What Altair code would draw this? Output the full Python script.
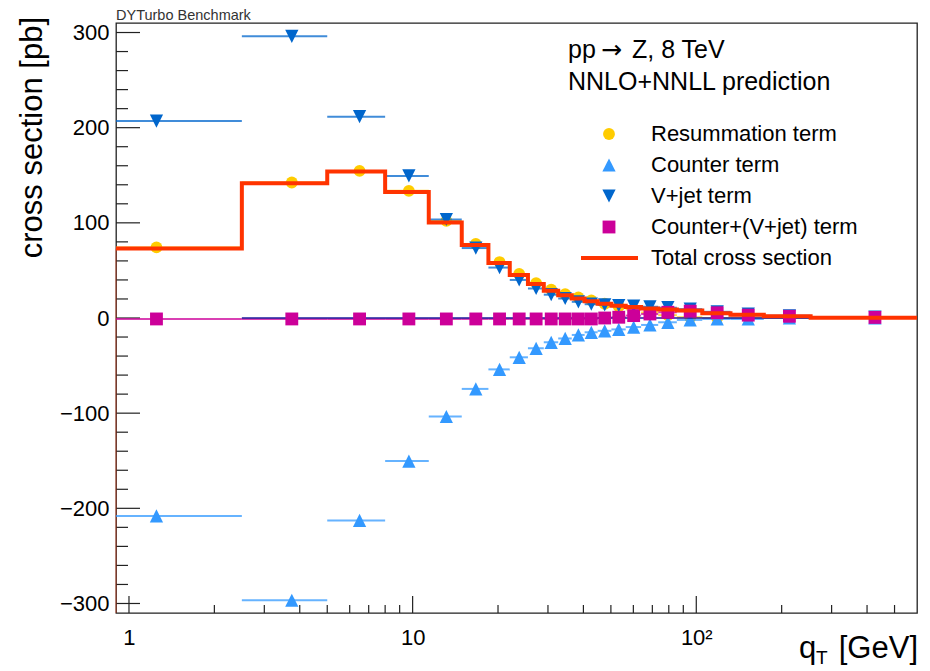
import altair as alt
import pandas as pd

# ---------------- data ----------------
EDGES = [0, 2.5, 5, 8, 11.4, 14.9, 18.5, 22, 25.5, 29, 32.6, 36.4, 40.4, 44.9,
         50.2, 56.4, 63.9, 73.4, 85.4, 105, 132, 173, 253, 600]

SERIES = ["Resummation term", "Counter term", "V+jet term", "Counter+(V+jet) term"]

RESUM = [74.2, 142.4, 154.6, 133.6, 102.0, 77.8, 58.8, 46.2, 36.7, 29.7, 25.0,
         21.5, 18.5, 15.0, 12.2, 9.0, 5.8, 3.0, 0.8, 0.0, 0.2, 0.0, 0.0]
COUNTER = [-208.0, -296.6, -212.7, -150.4, -103.5, -74.5, -54.0, -41.3, -31.8,
           -25.5, -21.5, -17.8, -15.0, -13.5, -12.0, -9.5, -7.3, -4.5, -2.0,
           -1.0, -1.0, 0.0, 0.0]
VJET = [207.0, 296.0, 211.6, 149.3, 103.5, 73.5, 53.0, 40.0, 31.0, 24.5, 20.5,
        17.0, 14.5, 13.8, 13.0, 12.5, 11.8, 10.8, 9.3, 6.5, 4.2, 2.3, 0.8]
CPV = [-1.0, -1.0, -1.0, -1.0, -1.0, -1.0, -1.0, -1.0, -1.0, -1.0, -1.0, -1.0,
       -1.0, 0.0, 0.8, 2.5, 4.2, 6.0, 7.2, 5.5, 3.0, 1.8, 0.6]
TOTAL = [73.1, 141.7, 153.9, 132.5, 100.4, 76.6, 57.7, 45.1, 35.7, 28.7, 24.0,
         20.5, 17.5, 15.0, 13.0, 11.5, 10.0, 9.0, 8.0, 5.0, 3.3, 1.8, 0.2]

X_TICKS_MAJOR = [1, 10, 100]
X_TICKS_MINOR = [2, 3, 4, 5, 6, 7, 8, 9, 20, 30, 40, 50, 60, 70, 80, 90,
                 200, 300, 400, 500]
Y_TICKS_MAJOR = list(range(-300, 301, 100))
Y_TICKS_MINOR = [v for v in range(-300, 301, 20) if v % 100 != 0]

HEADER_1 = ["pp", "\u2192", "Z, 8 TeV"]
HEADER_2 = "NNLO+NNLL prediction"
TOTAL_LABEL = "Total cross section"

# ---------------- layout / style ----------------
X_MIN, X_MAX = 0.9, 600
Y_MIN, Y_MAX = -310, 310
W, H = 801, 590
FONT = "Liberation Sans"

STYLE = {
    "Resummation term": dict(color="#ffcc00", shape="circle", size=140),
    "Counter term": dict(color="#3399ff", shape="M0,-1L1,1L-1,1Z", size=175),
    "V+jet term": dict(color="#0066cc", shape="M0,1L1,-1L-1,-1Z", size=175),
    "Counter+(V+jet) term": dict(color="#cc0099", shape="square", size=165),
}
RED = "#ff3300"

lo = [max(e, X_MIN) for e in EDGES[:-1]]
hi = EDGES[1:]
center = [(a + b) / 2 for a, b in zip(EDGES[:-1], EDGES[1:])]

xs = alt.Scale(type="log", domain=[X_MIN, X_MAX], nice=False)
ys = alt.Scale(domain=[Y_MIN, Y_MAX], nice=False, zero=False)
xaxis = alt.Axis(values=X_TICKS_MAJOR,
                 labelExpr="datum.value >= 100 ? '10\u00b2' : format(datum.value, 'd')",
                 ticks=False, domain=False, grid=False, title=None,
                 labelFont=FONT, labelFontSize=22, labelColor="black",
                 labelPadding=14, labelFlush=False, labelOverlap=False)
yaxis = alt.Axis(values=Y_TICKS_MAJOR, format="d",
                 ticks=False, domain=False, grid=False, title=None,
                 labelFont=FONT, labelFontSize=22, labelColor="black",
                 labelPadding=7, labelOverlap=False)


def X(f):
    return alt.X(f, type="quantitative", scale=xs, axis=xaxis)


def Y(f):
    return alt.Y(f, type="quantitative", scale=ys, axis=yaxis)


rows = []
for name, vals in zip(SERIES, [RESUM, COUNTER, VJET, CPV]):
    for c, a, b, v in zip(center, lo, hi, vals):
        rows.append(dict(series=name, qt=c, lo=a, hi=b, xs=v))
df = pd.DataFrame(rows)

layers = []

# inward ticks
ytm = pd.DataFrame({"v": Y_TICKS_MAJOR})
ytn = pd.DataFrame({"v": Y_TICKS_MINOR})
xtm = pd.DataFrame({"v": X_TICKS_MAJOR})
xtn = pd.DataFrame({"v": X_TICKS_MINOR})
layers.append(alt.Chart(ytm).mark_rule(color="#222", strokeWidth=1.2).encode(
    y=Y("v"), x=alt.value(0), x2=alt.value(24)))
layers.append(alt.Chart(ytn).mark_rule(color="#222", strokeWidth=1.2).encode(
    y=Y("v"), x=alt.value(0), x2=alt.value(12)))
layers.append(alt.Chart(xtm).mark_rule(color="#222", strokeWidth=1.2).encode(
    x=X("v"), y=alt.value(H), y2=alt.value(H - 17)))
layers.append(alt.Chart(xtn).mark_rule(color="#222", strokeWidth=1.2).encode(
    x=X("v"), y=alt.value(H), y2=alt.value(H - 8)))

# faint left edge of the total histogram
edge_df = pd.DataFrame({"qt": [X_MIN], "y0": [Y_MIN], "y1": [TOTAL[0]]})
layers.append(alt.Chart(edge_df).mark_rule(color=RED, opacity=0.35, strokeWidth=1.5).encode(
    x=X("qt"), y=Y("y0"), y2="y1"))

for name in SERIES:
    st = STYLE[name]
    sub = df[df.series == name]
    layers.append(alt.Chart(sub).mark_rule(color=st["color"], strokeWidth=2, opacity=0.75).encode(
        x=X("lo"), x2="hi", y=Y("xs")))
    if name == "Counter+(V+jet) term":
        zero_df = pd.DataFrame({"lo": [EDGES[1]], "hi": [X_MAX], "y": [0]})
        layers.append(alt.Chart(zero_df).mark_rule(color="#1c1c9c", strokeWidth=1.5).encode(
            x=X("lo"), x2="hi", y=Y("y")))
    layers.append(alt.Chart(sub).mark_point(filled=True, shape=st["shape"], size=st["size"],
                                            color=st["color"], opacity=1).encode(
        x=X("qt"), y=Y("xs")))

# total cross section (step histogram)
step_df = pd.DataFrame({"qt": lo + [X_MAX], "xs": TOTAL + [TOTAL[-1]]})
layers.append(alt.Chart(step_df).mark_line(interpolate="step-after", color=RED,
                                           strokeWidth=4).encode(x=X("qt"), y=Y("xs")))

# ---------------- legend / texts ----------------
dummy = alt.Data(values=[{}])


def txt(t, x, y, size, align="left", baseline="middle", font=FONT, color="black", angle=None):
    kw = dict(text=t, font=font, fontSize=size, align=align, baseline=baseline, color=color)
    if angle is not None:
        kw["angle"] = angle
    return alt.Chart(dummy).mark_text(**kw).encode(x=alt.value(x), y=alt.value(y))


LEG_XM, LEG_XT, LEG_Y0, LEG_DY = 493, 535, 111, 31
for i, name in enumerate(SERIES):
    st = STYLE[name]
    yy = LEG_Y0 + LEG_DY * i
    layers.append(alt.Chart(dummy).mark_point(filled=True, shape=st["shape"], size=st["size"],
                                              color=st["color"], opacity=1).encode(
        x=alt.value(LEG_XM), y=alt.value(yy)))
    layers.append(txt(name, LEG_XT, yy, 22))
yy = LEG_Y0 + LEG_DY * len(SERIES)
layers.append(alt.Chart(dummy).mark_rule(color=RED, strokeWidth=4).encode(
    x=alt.value(465), x2=alt.value(522), y=alt.value(yy)))
layers.append(txt(TOTAL_LABEL, LEG_XT, yy, 22))

# header
layers.append(txt(HEADER_1[0], 452, 27, 25))
layers.append(txt(HEADER_1[1], 485, 27, 25, font="DejaVu Sans"))
layers.append(txt(HEADER_1[2], 516, 27, 25))
layers.append(txt(HEADER_2, 452, 59, 25))

layers.append(txt("DYTurbo Benchmark", 0, -3, 14.5, baseline="alphabetic", color="#333"))

layers.append(txt("cross section [pb]", -83, -6, 31, align="right", angle=270))

# x title: q_T [GeV]
layers.append(txt("q", 683, 635, 31, baseline="alphabetic"))
layers.append(txt("T", 700, 641, 19, baseline="alphabetic"))
layers.append(txt("[GeV]", W + 1, 635, 31, align="right", baseline="alphabetic"))

chart = alt.layer(*layers).properties(
    width=W, height=H,
    autosize=alt.AutoSizeParams(type="none"),
    padding={"left": 108, "top": 15, "right": 5, "bottom": 55},
    background="white",
).configure_view(stroke="#222", strokeWidth=1.3)

chart.save("out.html", embed_options={"renderer": "svg", "actions": False})
